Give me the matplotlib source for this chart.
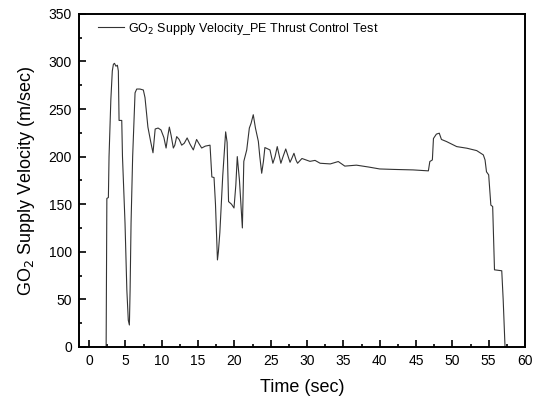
import numpy as np
import matplotlib.pyplot as plt
from matplotlib.ticker import MultipleLocator

plt.rcParams['font.family'] = ['Liberation Sans', 'DejaVu Sans']

# --- 数据 ---
time_s = [0.0, 2.35, 2.40, 2.45, 2.66, 2.75, 3.0, 3.2, 3.35, 3.5, 3.7, 3.9, 4.03, 4.13,
          4.5, 4.6, 4.95, 5.2, 5.4, 5.55, 5.65, 5.78, 6.0, 6.33, 6.56, 7.0, 7.47,
          7.7, 8.1, 8.5, 8.8, 9.1, 9.5, 9.9, 10.3, 10.6, 10.85, 11.05, 11.3, 11.6,
          11.8, 12.06, 12.4, 12.75, 13.1, 13.5, 13.9, 14.35, 14.6, 14.8, 15.1,
          15.5, 16.0, 16.65, 16.9, 17.2, 17.4, 17.67, 17.8, 18.0, 18.4, 18.8,
          19.0, 19.2, 19.6, 19.95, 20.2, 20.4, 20.7, 20.9, 21.1, 21.3, 21.7,
          22.06, 22.3, 22.6, 22.9, 23.3, 23.5, 23.76, 24.0, 24.2, 24.9, 25.3,
          25.6, 25.9, 26.2, 26.4, 26.7, 27.07, 27.4, 27.66, 27.9, 28.2, 28.5,
          28.7, 29.3, 30.4, 31.1, 31.8, 33.2, 34.3, 35.2, 36.8, 38.5, 40.0,
          42.0, 44.6, 46.7, 46.9, 47.25, 47.4, 47.8, 48.2, 48.5, 49.2, 50.6,
          52.0, 53.35, 54.26, 54.5, 54.7, 55.0, 55.3, 55.55, 55.8, 56.8, 57.0,
          57.25, 57.4]
velocity = [0, 0, 80, 156, 157, 200, 260, 290, 297, 298, 295, 296, 290, 238,
            238, 200, 130, 60, 28, 23, 60, 130, 200, 267, 271, 271, 270,
            262, 231, 215, 204, 229, 230, 228, 220, 209, 222, 231, 222, 209,
            212, 221, 218, 212, 214, 219.6, 213, 207, 213, 218, 214,
            209, 211, 212, 178.6, 178, 150, 91.4, 100, 120, 180, 226,
            215, 152.7, 150, 146, 170, 200, 175, 150, 125, 195, 207,
            230, 235, 244, 230, 216, 200, 182.5, 195, 209.5, 207, 193,
            200, 210.5, 200, 193, 200, 208, 200, 194, 198, 203.5, 196,
            193, 198, 195, 196, 193, 192.3, 194.8, 190, 191, 189, 187,
            186.5, 186, 185, 194.8, 196.5, 219, 223.6, 224.6, 218, 215.8, 210.5,
            208.8, 206.3, 201.8, 196.5, 184, 180.8, 149, 147.5, 81, 80, 49,
            0, 0]

fig = plt.figure(figsize=(5.33, 3.96), dpi=100)
ax = fig.add_axes([0.148, 0.124, 0.837, 0.841])

ax.plot(time_s, velocity, color='#333333', lw=0.8,
        label='GO$_2$ Supply Velocity_PE Thrust Control Test')

ax.set_xlim(-1.4, 60)
ax.set_ylim(0, 350)
ax.xaxis.set_major_locator(MultipleLocator(5))
ax.xaxis.set_minor_locator(MultipleLocator(2.5))
ax.yaxis.set_major_locator(MultipleLocator(50))
ax.yaxis.set_minor_locator(MultipleLocator(25))
ax.tick_params(which='both', direction='in', width=1.2, labelsize=10, pad=5)
ax.tick_params(which='major', length=5)
ax.tick_params(which='minor', length=2.5)
for s in ax.spines.values():
    s.set_linewidth(1.4)

ax.set_xlabel('Time (sec)', fontsize=13, labelpad=8)
ax.set_ylabel('GO$_2$ Supply Velocity (m/sec)', fontsize=13, labelpad=8)

ax.legend(loc='upper left', bbox_to_anchor=(0.031, 0.995), borderaxespad=0,
          frameon=False, fontsize=9, handlelength=2.1, handletextpad=0.3)

plt.savefig('out.png', dpi=100)
